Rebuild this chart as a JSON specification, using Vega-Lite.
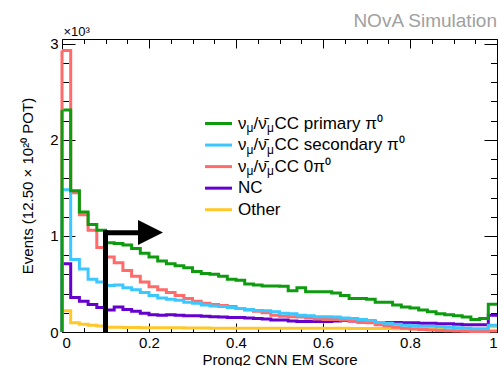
{
"$schema": "https://vega.github.io/schema/vega-lite/v6.json",
"width": 435, "height": 293,
"autosize": "none",
"padding": {"left": 62, "top": 39, "right": 1, "bottom": 34},
"background": "white",
"config": {
 "font": "Liberation Sans",
 "view": {"stroke": "black", "strokeWidth": 1},
 "axis": {"domain": false, "grid": false, "labelFont": "Liberation Sans", "labelFontSize": 15, "labelColor": "black", "titleFont": "Liberation Sans", "titleFontSize": 15, "titleFontWeight": "normal", "titleColor": "black", "tickColor": "black", "tickWidth": 1}
},
"title": {"text": "NOvA Simulation", "anchor": "end", "frame": "group", "fontSize": 19, "fontWeight": "normal", "font": "Liberation Sans", "color": "#a0a0a0", "offset": -6},
"datasets": {
 "hist": [
{"s":"Other","lo":0,"hi":0.02,"n":220},{"s":"Other","lo":0.02,"hi":0.04,"n":95},{"s":"Other","lo":0.04,"hi":0.06,"n":80},{"s":"Other","lo":0.06,"hi":0.08,"n":70},{"s":"Other","lo":0.08,"hi":0.1,"n":62},{"s":"Other","lo":0.1,"hi":0.12,"n":50},{"s":"Other","lo":0.12,"hi":0.14,"n":50},{"s":"Other","lo":0.14,"hi":0.16,"n":48},{"s":"Other","lo":0.16,"hi":0.18,"n":46},{"s":"Other","lo":0.18,"hi":0.2,"n":45},{"s":"Other","lo":0.2,"hi":0.22,"n":45},{"s":"Other","lo":0.22,"hi":0.24,"n":45},{"s":"Other","lo":0.24,"hi":0.26,"n":44},{"s":"Other","lo":0.26,"hi":0.28,"n":43},{"s":"Other","lo":0.28,"hi":0.3,"n":42},{"s":"Other","lo":0.3,"hi":0.32,"n":42},{"s":"Other","lo":0.32,"hi":0.34,"n":41},{"s":"Other","lo":0.34,"hi":0.36,"n":40},{"s":"Other","lo":0.36,"hi":0.38,"n":40},{"s":"Other","lo":0.38,"hi":0.4,"n":40},{"s":"Other","lo":0.4,"hi":0.42,"n":40},{"s":"Other","lo":0.42,"hi":0.44,"n":40},{"s":"Other","lo":0.44,"hi":0.46,"n":40},{"s":"Other","lo":0.46,"hi":0.48,"n":40},{"s":"Other","lo":0.48,"hi":0.5,"n":40},{"s":"Other","lo":0.5,"hi":0.52,"n":40},{"s":"Other","lo":0.52,"hi":0.54,"n":38},{"s":"Other","lo":0.54,"hi":0.56,"n":38},{"s":"Other","lo":0.56,"hi":0.58,"n":38},{"s":"Other","lo":0.58,"hi":0.6,"n":38},{"s":"Other","lo":0.6,"hi":0.62,"n":38},{"s":"Other","lo":0.62,"hi":0.64,"n":38},{"s":"Other","lo":0.64,"hi":0.66,"n":38},{"s":"Other","lo":0.66,"hi":0.68,"n":37},{"s":"Other","lo":0.68,"hi":0.7,"n":37},{"s":"Other","lo":0.7,"hi":0.72,"n":36},{"s":"Other","lo":0.72,"hi":0.74,"n":36},{"s":"Other","lo":0.74,"hi":0.76,"n":36},{"s":"Other","lo":0.76,"hi":0.78,"n":35},{"s":"Other","lo":0.78,"hi":0.8,"n":35},{"s":"Other","lo":0.8,"hi":0.82,"n":33},{"s":"Other","lo":0.82,"hi":0.84,"n":30},{"s":"Other","lo":0.84,"hi":0.86,"n":28},{"s":"Other","lo":0.86,"hi":0.88,"n":25},{"s":"Other","lo":0.88,"hi":0.9,"n":22},{"s":"Other","lo":0.9,"hi":0.92,"n":20},{"s":"Other","lo":0.92,"hi":0.94,"n":18},{"s":"Other","lo":0.94,"hi":0.96,"n":15},{"s":"Other","lo":0.96,"hi":0.98,"n":15},{"s":"Other","lo":0.98,"hi":1,"n":55},
{"s":"NC","lo":0,"hi":0.02,"n":710},{"s":"NC","lo":0.02,"hi":0.04,"n":360},{"s":"NC","lo":0.04,"hi":0.06,"n":320},{"s":"NC","lo":0.06,"hi":0.08,"n":285},{"s":"NC","lo":0.08,"hi":0.1,"n":255},{"s":"NC","lo":0.1,"hi":0.12,"n":230},{"s":"NC","lo":0.12,"hi":0.14,"n":260},{"s":"NC","lo":0.14,"hi":0.16,"n":235},{"s":"NC","lo":0.16,"hi":0.18,"n":215},{"s":"NC","lo":0.18,"hi":0.2,"n":195},{"s":"NC","lo":0.2,"hi":0.22,"n":180},{"s":"NC","lo":0.22,"hi":0.24,"n":175},{"s":"NC","lo":0.24,"hi":0.26,"n":180},{"s":"NC","lo":0.26,"hi":0.28,"n":175},{"s":"NC","lo":0.28,"hi":0.3,"n":170},{"s":"NC","lo":0.3,"hi":0.32,"n":170},{"s":"NC","lo":0.32,"hi":0.34,"n":165},{"s":"NC","lo":0.34,"hi":0.36,"n":160},{"s":"NC","lo":0.36,"hi":0.38,"n":155},{"s":"NC","lo":0.38,"hi":0.4,"n":150},{"s":"NC","lo":0.4,"hi":0.42,"n":150},{"s":"NC","lo":0.42,"hi":0.44,"n":145},{"s":"NC","lo":0.44,"hi":0.46,"n":140},{"s":"NC","lo":0.46,"hi":0.48,"n":135},{"s":"NC","lo":0.48,"hi":0.5,"n":125},{"s":"NC","lo":0.5,"hi":0.52,"n":125},{"s":"NC","lo":0.52,"hi":0.54,"n":115},{"s":"NC","lo":0.54,"hi":0.56,"n":110},{"s":"NC","lo":0.56,"hi":0.58,"n":110},{"s":"NC","lo":0.58,"hi":0.6,"n":110},{"s":"NC","lo":0.6,"hi":0.62,"n":110},{"s":"NC","lo":0.62,"hi":0.64,"n":115},{"s":"NC","lo":0.64,"hi":0.66,"n":120},{"s":"NC","lo":0.66,"hi":0.68,"n":115},{"s":"NC","lo":0.68,"hi":0.7,"n":125},{"s":"NC","lo":0.7,"hi":0.72,"n":110},{"s":"NC","lo":0.72,"hi":0.74,"n":100},{"s":"NC","lo":0.74,"hi":0.76,"n":100},{"s":"NC","lo":0.76,"hi":0.78,"n":100},{"s":"NC","lo":0.78,"hi":0.8,"n":95},{"s":"NC","lo":0.8,"hi":0.82,"n":95},{"s":"NC","lo":0.82,"hi":0.84,"n":90},{"s":"NC","lo":0.84,"hi":0.86,"n":90},{"s":"NC","lo":0.86,"hi":0.88,"n":85},{"s":"NC","lo":0.88,"hi":0.9,"n":85},{"s":"NC","lo":0.9,"hi":0.92,"n":80},{"s":"NC","lo":0.92,"hi":0.94,"n":75},{"s":"NC","lo":0.94,"hi":0.96,"n":75},{"s":"NC","lo":0.96,"hi":0.98,"n":75},{"s":"NC","lo":0.98,"hi":1,"n":175},
{"s":"0pi0","lo":0,"hi":0.02,"n":2930},{"s":"0pi0","lo":0.02,"hi":0.04,"n":1450},{"s":"0pi0","lo":0.04,"hi":0.06,"n":1220},{"s":"0pi0","lo":0.06,"hi":0.08,"n":1060},{"s":"0pi0","lo":0.08,"hi":0.1,"n":880},{"s":"0pi0","lo":0.1,"hi":0.12,"n":780},{"s":"0pi0","lo":0.12,"hi":0.14,"n":720},{"s":"0pi0","lo":0.14,"hi":0.16,"n":640},{"s":"0pi0","lo":0.16,"hi":0.18,"n":580},{"s":"0pi0","lo":0.18,"hi":0.2,"n":520},{"s":"0pi0","lo":0.2,"hi":0.22,"n":470},{"s":"0pi0","lo":0.22,"hi":0.24,"n":440},{"s":"0pi0","lo":0.24,"hi":0.26,"n":410},{"s":"0pi0","lo":0.26,"hi":0.28,"n":380},{"s":"0pi0","lo":0.28,"hi":0.3,"n":350},{"s":"0pi0","lo":0.3,"hi":0.32,"n":320},{"s":"0pi0","lo":0.32,"hi":0.34,"n":300},{"s":"0pi0","lo":0.34,"hi":0.36,"n":285},{"s":"0pi0","lo":0.36,"hi":0.38,"n":275},{"s":"0pi0","lo":0.38,"hi":0.4,"n":265},{"s":"0pi0","lo":0.4,"hi":0.42,"n":245},{"s":"0pi0","lo":0.42,"hi":0.44,"n":230},{"s":"0pi0","lo":0.44,"hi":0.46,"n":215},{"s":"0pi0","lo":0.46,"hi":0.48,"n":200},{"s":"0pi0","lo":0.48,"hi":0.5,"n":175},{"s":"0pi0","lo":0.5,"hi":0.52,"n":165},{"s":"0pi0","lo":0.52,"hi":0.54,"n":160},{"s":"0pi0","lo":0.54,"hi":0.56,"n":155},{"s":"0pi0","lo":0.56,"hi":0.58,"n":145},{"s":"0pi0","lo":0.58,"hi":0.6,"n":135},{"s":"0pi0","lo":0.6,"hi":0.62,"n":130},{"s":"0pi0","lo":0.62,"hi":0.64,"n":130},{"s":"0pi0","lo":0.64,"hi":0.66,"n":125},{"s":"0pi0","lo":0.66,"hi":0.68,"n":115},{"s":"0pi0","lo":0.68,"hi":0.7,"n":100},{"s":"0pi0","lo":0.7,"hi":0.72,"n":95},{"s":"0pi0","lo":0.72,"hi":0.74,"n":75},{"s":"0pi0","lo":0.74,"hi":0.76,"n":65},{"s":"0pi0","lo":0.76,"hi":0.78,"n":50},{"s":"0pi0","lo":0.78,"hi":0.8,"n":40},{"s":"0pi0","lo":0.8,"hi":0.82,"n":30},{"s":"0pi0","lo":0.82,"hi":0.84,"n":25},{"s":"0pi0","lo":0.84,"hi":0.86,"n":20},{"s":"0pi0","lo":0.86,"hi":0.88,"n":15},{"s":"0pi0","lo":0.88,"hi":0.9,"n":12},{"s":"0pi0","lo":0.9,"hi":0.92,"n":10},{"s":"0pi0","lo":0.92,"hi":0.94,"n":8},{"s":"0pi0","lo":0.94,"hi":0.96,"n":6},{"s":"0pi0","lo":0.96,"hi":0.98,"n":6},{"s":"0pi0","lo":0.98,"hi":1,"n":10},
{"s":"secondary","lo":0,"hi":0.02,"n":1480},{"s":"secondary","lo":0.02,"hi":0.04,"n":755},{"s":"secondary","lo":0.04,"hi":0.06,"n":655},{"s":"secondary","lo":0.06,"hi":0.08,"n":550},{"s":"secondary","lo":0.08,"hi":0.1,"n":520},{"s":"secondary","lo":0.1,"hi":0.12,"n":485},{"s":"secondary","lo":0.12,"hi":0.14,"n":490},{"s":"secondary","lo":0.14,"hi":0.16,"n":460},{"s":"secondary","lo":0.16,"hi":0.18,"n":440},{"s":"secondary","lo":0.18,"hi":0.2,"n":410},{"s":"secondary","lo":0.2,"hi":0.22,"n":380},{"s":"secondary","lo":0.22,"hi":0.24,"n":355},{"s":"secondary","lo":0.24,"hi":0.26,"n":340},{"s":"secondary","lo":0.26,"hi":0.28,"n":330},{"s":"secondary","lo":0.28,"hi":0.3,"n":310},{"s":"secondary","lo":0.3,"hi":0.32,"n":300},{"s":"secondary","lo":0.32,"hi":0.34,"n":280},{"s":"secondary","lo":0.34,"hi":0.36,"n":270},{"s":"secondary","lo":0.36,"hi":0.38,"n":265},{"s":"secondary","lo":0.38,"hi":0.4,"n":255},{"s":"secondary","lo":0.4,"hi":0.42,"n":245},{"s":"secondary","lo":0.42,"hi":0.44,"n":235},{"s":"secondary","lo":0.44,"hi":0.46,"n":225},{"s":"secondary","lo":0.46,"hi":0.48,"n":220},{"s":"secondary","lo":0.48,"hi":0.5,"n":210},{"s":"secondary","lo":0.5,"hi":0.52,"n":195},{"s":"secondary","lo":0.52,"hi":0.54,"n":190},{"s":"secondary","lo":0.54,"hi":0.56,"n":175},{"s":"secondary","lo":0.56,"hi":0.58,"n":170},{"s":"secondary","lo":0.58,"hi":0.6,"n":160},{"s":"secondary","lo":0.6,"hi":0.62,"n":160},{"s":"secondary","lo":0.62,"hi":0.64,"n":155},{"s":"secondary","lo":0.64,"hi":0.66,"n":145},{"s":"secondary","lo":0.66,"hi":0.68,"n":140},{"s":"secondary","lo":0.68,"hi":0.7,"n":130},{"s":"secondary","lo":0.7,"hi":0.72,"n":120},{"s":"secondary","lo":0.72,"hi":0.74,"n":100},{"s":"secondary","lo":0.74,"hi":0.76,"n":90},{"s":"secondary","lo":0.76,"hi":0.78,"n":80},{"s":"secondary","lo":0.78,"hi":0.8,"n":70},{"s":"secondary","lo":0.8,"hi":0.82,"n":65},{"s":"secondary","lo":0.82,"hi":0.84,"n":60},{"s":"secondary","lo":0.84,"hi":0.86,"n":60},{"s":"secondary","lo":0.86,"hi":0.88,"n":55},{"s":"secondary","lo":0.88,"hi":0.9,"n":50},{"s":"secondary","lo":0.9,"hi":0.92,"n":45},{"s":"secondary","lo":0.92,"hi":0.94,"n":40},{"s":"secondary","lo":0.94,"hi":0.96,"n":35},{"s":"secondary","lo":0.96,"hi":0.98,"n":35},{"s":"secondary","lo":0.98,"hi":1,"n":70},
{"s":"primary","lo":0,"hi":0.02,"n":2310},{"s":"primary","lo":0.02,"hi":0.04,"n":1470},{"s":"primary","lo":0.04,"hi":0.06,"n":1250},{"s":"primary","lo":0.06,"hi":0.08,"n":1120},{"s":"primary","lo":0.08,"hi":0.1,"n":1060},{"s":"primary","lo":0.1,"hi":0.12,"n":930},{"s":"primary","lo":0.12,"hi":0.14,"n":920},{"s":"primary","lo":0.14,"hi":0.16,"n":905},{"s":"primary","lo":0.16,"hi":0.18,"n":870},{"s":"primary","lo":0.18,"hi":0.2,"n":820},{"s":"primary","lo":0.2,"hi":0.22,"n":780},{"s":"primary","lo":0.22,"hi":0.24,"n":740},{"s":"primary","lo":0.24,"hi":0.26,"n":710},{"s":"primary","lo":0.26,"hi":0.28,"n":690},{"s":"primary","lo":0.28,"hi":0.3,"n":670},{"s":"primary","lo":0.3,"hi":0.32,"n":630},{"s":"primary","lo":0.32,"hi":0.34,"n":610},{"s":"primary","lo":0.34,"hi":0.36,"n":600},{"s":"primary","lo":0.36,"hi":0.38,"n":580},{"s":"primary","lo":0.38,"hi":0.4,"n":550},{"s":"primary","lo":0.4,"hi":0.42,"n":540},{"s":"primary","lo":0.42,"hi":0.44,"n":500},{"s":"primary","lo":0.44,"hi":0.46,"n":490},{"s":"primary","lo":0.46,"hi":0.48,"n":480},{"s":"primary","lo":0.48,"hi":0.5,"n":480},{"s":"primary","lo":0.5,"hi":0.52,"n":475},{"s":"primary","lo":0.52,"hi":0.54,"n":430},{"s":"primary","lo":0.54,"hi":0.56,"n":460},{"s":"primary","lo":0.56,"hi":0.58,"n":420},{"s":"primary","lo":0.58,"hi":0.6,"n":420},{"s":"primary","lo":0.6,"hi":0.62,"n":420},{"s":"primary","lo":0.62,"hi":0.64,"n":405},{"s":"primary","lo":0.64,"hi":0.66,"n":380},{"s":"primary","lo":0.66,"hi":0.68,"n":350},{"s":"primary","lo":0.68,"hi":0.7,"n":350},{"s":"primary","lo":0.7,"hi":0.72,"n":340},{"s":"primary","lo":0.72,"hi":0.74,"n":310},{"s":"primary","lo":0.74,"hi":0.76,"n":310},{"s":"primary","lo":0.76,"hi":0.78,"n":280},{"s":"primary","lo":0.78,"hi":0.8,"n":260},{"s":"primary","lo":0.8,"hi":0.82,"n":250},{"s":"primary","lo":0.82,"hi":0.84,"n":230},{"s":"primary","lo":0.84,"hi":0.86,"n":210},{"s":"primary","lo":0.86,"hi":0.88,"n":190},{"s":"primary","lo":0.88,"hi":0.9,"n":180},{"s":"primary","lo":0.9,"hi":0.92,"n":170},{"s":"primary","lo":0.92,"hi":0.94,"n":155},{"s":"primary","lo":0.94,"hi":0.96,"n":130},{"s":"primary","lo":0.96,"hi":0.98,"n":140},{"s":"primary","lo":0.98,"hi":1,"n":290}
 ],
 "legend": [
  {"s":"primary","nu":true,"rest":"CC primary π⁰"},
  {"s":"secondary","nu":true,"rest":"CC secondary π⁰"},
  {"s":"0pi0","nu":true,"rest":"CC 0π⁰"},
  {"s":"NC","nu":false,"rest":"NC"},
  {"s":"Other","nu":false,"rest":"Other"}
 ],
 "cut": [{"cut": 0.1}]
},
"layer": [
 {
  "data": {"name": "hist"},
  "resolve": {"axis": {"x": "independent", "y": "independent"}},
  "layer": [
   {
    "transform": [{"fold": ["lo", "hi"], "as": ["edge", "x"]}],
    "mark": {"type": "line", "strokeWidth": 3, "strokeJoin": "miter"},
    "encoding": {
     "x": {"field": "x", "type": "quantitative", "scale": {"domain": [0, 1], "nice": false, "zero": false},
       "axis": {"orient": "bottom", "values": [0, 0.2, 0.4, 0.6, 0.8, 1], "format": "~g", "tickSize": -9, "labelPadding": 12, "title": "Prong2 CNN EM Score", "titlePadding": 2}},
     "y": {"field": "n", "type": "quantitative", "scale": {"domain": [0, 3050], "nice": false},
       "axis": {"orient": "left", "values": [0, 1000, 2000, 3000], "labelExpr": "datum.value / 1000", "tickSize": -13, "labelPadding": 17, "title": "Events (12.50 × 10²⁰ POT)", "titlePadding": 14}},
     "color": {"field": "s", "type": "nominal", "scale": {"domain": ["primary", "secondary", "0pi0", "NC", "Other"], "range": ["#0f9b0f", "#3cc8ff", "#ff6b6b", "#6600cc", "#ffc82a"]}, "legend": null},
     "order": {"value": null}
    }
   },
   {
    "transform": [{"filter": "datum.lo == 0"}],
    "mark": {"type": "rule", "strokeWidth": 3},
    "encoding": {
     "x": {"field": "lo", "type": "quantitative", "scale": {"domain": [0, 1], "nice": false, "zero": false},
       "axis": {"orient": "bottom", "values": [0.05, 0.1, 0.15, 0.25, 0.3, 0.35, 0.45, 0.5, 0.55, 0.65, 0.7, 0.75, 0.85, 0.9, 0.95], "labels": false, "tickSize": -4.5, "title": null}},
     "y": {"field": "n", "type": "quantitative", "scale": {"domain": [0, 3050], "nice": false},
       "axis": {"orient": "left", "values": [200, 400, 600, 800, 1200, 1400, 1600, 1800, 2200, 2400, 2600, 2800], "labels": false, "tickSize": -6.5, "title": null}},
     "y2": {"datum": 0},
     "color": {"field": "s", "type": "nominal", "legend": null}
    }
   },
   {
    "data": {"name": "cut"},
    "mark": {"type": "rule", "strokeWidth": 5, "color": "black"},
    "encoding": {
     "x": {"field": "cut", "type": "quantitative", "scale": {"domain": [0, 1], "nice": false, "zero": false},
       "axis": {"orient": "top", "values": [0, 0.2, 0.4, 0.6, 0.8, 1], "labels": false, "tickSize": -9, "title": null}},
     "y": {"datum": 0, "type": "quantitative", "scale": {"domain": [0, 3050], "nice": false},
       "axis": {"orient": "right", "values": [0, 1000, 2000, 3000], "labels": false, "tickSize": -13, "title": null}},
     "y2": {"datum": 1059}
    }
   },
   {
    "data": {"name": "cut"},
    "mark": {"type": "rule", "strokeWidth": 5, "color": "black"},
    "encoding": {
     "x": {"field": "cut", "type": "quantitative", "scale": {"domain": [0, 1], "nice": false, "zero": false},
       "axis": {"orient": "top", "values": [0.05, 0.1, 0.15, 0.25, 0.3, 0.35, 0.45, 0.5, 0.55, 0.65, 0.7, 0.75, 0.85, 0.9, 0.95], "labels": false, "tickSize": -4.5, "title": null}},
     "x2": {"datum": 0.18},
     "y": {"datum": 1033, "type": "quantitative", "scale": {"domain": [0, 3050], "nice": false},
       "axis": {"orient": "right", "values": [200, 400, 600, 800, 1200, 1400, 1600, 1800, 2200, 2400, 2600, 2800], "labels": false, "tickSize": -6.5, "title": null}}
    }
   },
   {
    "data": {"name": "cut"},
    "mark": {"type": "point", "shape": "M-1,-1L1,0L-1,1Z", "filled": true, "color": "black", "opacity": 1, "size": 625},
    "encoding": {
     "x": {"datum": 0.2034, "type": "quantitative", "scale": {"domain": [0, 1], "nice": false, "zero": false}, "axis": null},
     "y": {"datum": 1037, "type": "quantitative", "scale": {"domain": [0, 3050], "nice": false},
       "axis": {"orient": "left", "labels": false, "ticks": false, "title": "×10³", "titleAngle": 0, "titleAlign": "left", "titleBaseline": "alphabetic", "titleX": 1, "titleY": -4, "titleFontSize": 13}}
    }
   }
  ]
 },
 {
  "data": {"name": "legend"},
  "layer": [
   {
    "mark": {"type": "rule", "strokeWidth": 3},
    "encoding": {
     "x": {"datum": 0.3287, "type": "quantitative", "scale": {"domain": [0, 1], "nice": false, "zero": false}, "axis": null},
     "x2": {"datum": 0.3908},
     "y": {"field": "s", "type": "nominal", "scale": {"type": "point", "domain": ["primary", "secondary", "0pi0", "NC", "Other"], "range": [84.5, 170.7], "padding": 0}, "axis": null},
     "color": {"field": "s", "type": "nominal", "legend": null}
    }
   },
   {
    "transform": [{"filter": "datum.nu"}],
    "mark": {"type": "text", "text": "ν", "align": "left", "baseline": "middle", "fontSize": 17, "color": "black"},
    "encoding": {
     "x": {"datum": 0.4046, "type": "quantitative", "scale": {"domain": [0, 1], "nice": false, "zero": false}, "axis": null},
     "y": {"field": "s", "type": "nominal", "scale": {"type": "point", "domain": ["primary", "secondary", "0pi0", "NC", "Other"], "range": [84.5, 170.7], "padding": 0}, "axis": null}
    }
   },
   {
    "transform": [{"filter": "datum.nu"}],
    "mark": {"type": "text", "text": "μ", "align": "left", "baseline": "middle", "fontSize": 12, "dx": 8.5, "dy": 4.5, "color": "black"},
    "encoding": {
     "x": {"datum": 0.4046, "type": "quantitative", "scale": {"domain": [0, 1], "nice": false, "zero": false}, "axis": null},
     "y": {"field": "s", "type": "nominal", "scale": {"type": "point", "domain": ["primary", "secondary", "0pi0", "NC", "Other"], "range": [84.5, 170.7], "padding": 0}, "axis": null}
    }
   },
   {
    "transform": [{"filter": "datum.nu"}],
    "mark": {"type": "text", "text": "/ν̄", "align": "left", "baseline": "middle", "fontSize": 17, "dx": 15.5, "color": "black"},
    "encoding": {
     "x": {"datum": 0.4046, "type": "quantitative", "scale": {"domain": [0, 1], "nice": false, "zero": false}, "axis": null},
     "y": {"field": "s", "type": "nominal", "scale": {"type": "point", "domain": ["primary", "secondary", "0pi0", "NC", "Other"], "range": [84.5, 170.7], "padding": 0}, "axis": null}
    }
   },
   {
    "transform": [{"filter": "datum.nu"}],
    "mark": {"type": "text", "text": "μ", "align": "left", "baseline": "middle", "fontSize": 12, "dx": 29, "dy": 4.5, "color": "black"},
    "encoding": {
     "x": {"datum": 0.4046, "type": "quantitative", "scale": {"domain": [0, 1], "nice": false, "zero": false}, "axis": null},
     "y": {"field": "s", "type": "nominal", "scale": {"type": "point", "domain": ["primary", "secondary", "0pi0", "NC", "Other"], "range": [84.5, 170.7], "padding": 0}, "axis": null}
    }
   },
   {
    "transform": [{"filter": "datum.nu"}],
    "mark": {"type": "text", "align": "left", "baseline": "middle", "fontSize": 17, "dx": 36.5, "color": "black"},
    "encoding": {
     "x": {"datum": 0.4046, "type": "quantitative", "scale": {"domain": [0, 1], "nice": false, "zero": false}, "axis": null},
     "y": {"field": "s", "type": "nominal", "scale": {"type": "point", "domain": ["primary", "secondary", "0pi0", "NC", "Other"], "range": [84.5, 170.7], "padding": 0}, "axis": null},
     "text": {"field": "rest"}
    }
   },
   {
    "transform": [{"filter": "!datum.nu"}],
    "mark": {"type": "text", "align": "left", "baseline": "middle", "fontSize": 17, "color": "black"},
    "encoding": {
     "x": {"datum": 0.4046, "type": "quantitative", "scale": {"domain": [0, 1], "nice": false, "zero": false}, "axis": null},
     "y": {"field": "s", "type": "nominal", "scale": {"type": "point", "domain": ["primary", "secondary", "0pi0", "NC", "Other"], "range": [84.5, 170.7], "padding": 0}, "axis": null},
     "text": {"field": "rest"}
    }
   }
  ]
 }
],
"resolve": {"scale": {"y": "independent"}, "axis": {"x": "independent", "y": "independent"}}
}
